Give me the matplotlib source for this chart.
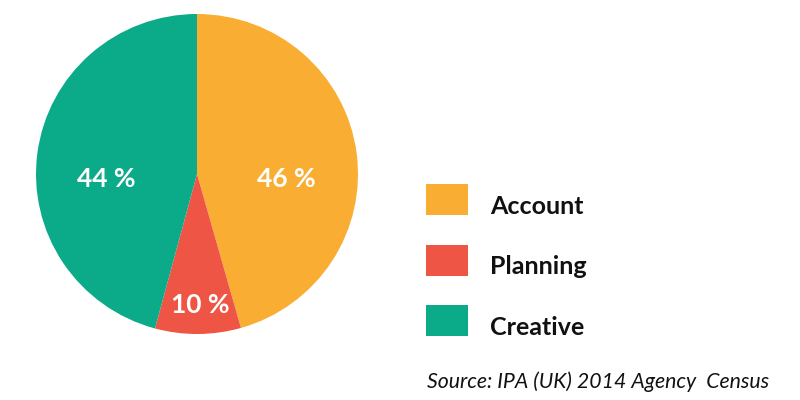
import matplotlib
matplotlib.use("Agg")
import matplotlib.pyplot as plt
from matplotlib.patches import Rectangle

# ---------------------------- Data ----------------------------
categories = ["Account", "Planning", "Creative"]
# wedge sizes as drawn in the original (labels are the published figures)
shares = [45.6, 8.6, 45.8]
pct_labels = ["46 %", "10 %", "44 %"]
colors = ["#F9AE33", "#EE5545", "#0BAA88"]
source = "Source: IPA (UK) 2014 Agency  Census"

plt.rcParams['font.family'] = ['Lato', 'DejaVu Sans']

fig = plt.figure(figsize=(8, 4), dpi=100)
fig.patch.set_facecolor("white")

# ---------------------------- Pie ----------------------------
ax = fig.add_axes([36 / 800, 1 - 334 / 400, 322 / 800, 320 / 400])
wedges, texts = ax.pie(shares, colors=colors, startangle=90,
                       counterclock=False, wedgeprops=dict(linewidth=0))
ax.set_aspect("auto")
ax.set_xlim(-1, 1)
ax.set_ylim(-1, 1)

# label positions nudged to match the original layout
label_pos = [(0.553, -0.03), (0.02, -0.82), (-0.566, -0.03)]
for lab, p in zip(pct_labels, label_pos):
    ax.text(p[0], p[1], lab, color="white", fontsize=19, fontweight="bold",
            ha="center", va="center")

# ---------------------------- Legend ----------------------------
lax = fig.add_axes([0, 0, 1, 1])
lax.set_xlim(0, 800)
lax.set_ylim(400, 0)
lax.axis("off")
for i, (name, c) in enumerate(zip(categories, colors)):
    y0 = 184 + i * 60.5
    lax.add_patch(Rectangle((426, y0), 42, 31, color=c, lw=0))
    lax.text(490, y0 + 30, name, fontsize=18, fontweight="bold",
             va="baseline", ha="left", color="#111111")

lax.text(427, 388, source, fontsize=15.3, style="italic", va="baseline",
         ha="left", color="#111111")

fig.savefig("out.png", dpi=100)
